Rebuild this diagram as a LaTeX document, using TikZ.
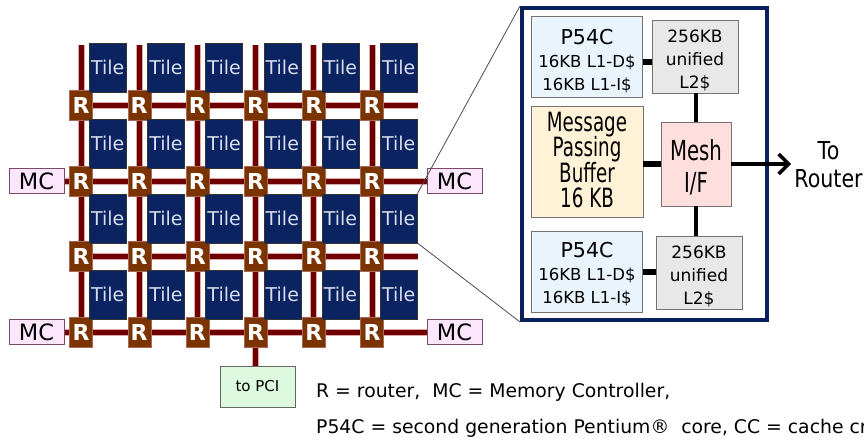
\documentclass[tikz,border=0pt]{standalone}
\usepackage{fontspec}
\setmainfont{DejaVu Sans}
\usepackage{graphicx}
\usepackage{tikz}
\usetikzlibrary{positioning,arrows.meta,calc,backgrounds}
\definecolor{TileBlue}{HTML}{0B2361}
\definecolor{TileText}{HTML}{D8DEEE}
\definecolor{RtrBrown}{HTML}{7B3300}
\definecolor{RtrEdge}{HTML}{A8685A}
\definecolor{LinkRed}{HTML}{6E0000}
\definecolor{LinkHalo}{HTML}{DDA8A8}
\definecolor{McPink}{HTML}{FCE6FC}
\definecolor{McEdge}{HTML}{7A4A66}
\definecolor{PciGreen}{HTML}{DEFADE}
\definecolor{PanelBlue}{HTML}{0A1F5C}
\definecolor{CoreBlue}{HTML}{EAF4FC}
\definecolor{CacheGray}{HTML}{E8E8E8}
\definecolor{BufYellow}{HTML}{FFF2D6}
\definecolor{MeshPink}{HTML}{FFDEDE}
% taller lettering used in the zoomed tile
\newcommand{\vst}[2]{\vphantom{#2}\smash{\scalebox{1}[#1]{#2}}}

\begin{document}
\begin{tikzpicture}[
  x=1pt,y=-1pt,
  every node/.style={align=center,inner sep=0pt},
  tile/.style={draw=black!80,fill=TileBlue,text=TileText,minimum width=37pt,minimum height=49pt,font=\fontsize{19}{19}\selectfont},
  rtr/.style={draw=RtrEdge,fill=RtrBrown,text=white,minimum width=23pt,minimum height=30pt,font=\bfseries\fontsize{22}{22}\selectfont},
  link/.style={draw=LinkRed,line width=5pt,preaction={draw=LinkHalo,line width=7pt}},
  mc/.style={draw=McEdge,fill=McPink,minimum width=55pt,minimum height=25pt,font=\fontsize{22.5}{22.5}\selectfont},
  pci/.style={draw=black!60,fill=PciGreen,minimum width=75pt,minimum height=41pt,font=\fontsize{15}{15}\selectfont},
  blk/.style={draw=black!55,line width=0.8pt},
  core/.style={blk,fill=CoreBlue,minimum width=111pt,minimum height=81pt,font=\fontsize{16.5}{23}\selectfont},
  cache/.style={blk,fill=CacheGray,minimum width=86pt,minimum height=73pt,font=\fontsize{17}{23}\selectfont},
  bus/.style={line width=5.5pt},
  vbus/.style={line width=4pt},
  arr/.style={-{Straight Barb[length=10pt,width=20pt]},line width=3.5pt},
  zoomline/.style={draw=black!70,line width=0.8pt},
  legend/.style={anchor=base west,font=\fontsize{18.8}{18.8}\selectfont}
]
  \useasboundingbox (0,0) rectangle (864,444);

  % mesh of routers and tiles
  \foreach \x [count=\i] in {81,139.2,197.4,255.6,313.8,372}
    \foreach \y [count=\j] in {105,181,256,332} {
      \node[rtr] (r-\i-\j) at (\x,\y) {R};
      \node[tile,anchor=south west] (t-\i-\j) at ($(r-\i-\j.center)+(8,-13)$) {Tile};
    }
  \node[mc] (mcl-2) at (36.5,181) {MC};
  \node[mc] (mcr-2) at (454.5,181) {MC};
  \node[mc] (mcl-4) at (36.5,332) {MC};
  \node[mc] (mcr-4) at (454.5,332) {MC};
  \node[pci] (pci) at (257.5,386.5) {to PCI};

  \begin{scope}[on background layer]
    \foreach \i in {1,...,6} \draw[link] ($(r-\i-1.center)+(0,-60)$) -- (r-\i-4.center);
    \draw[link] (r-4-4.center) -- (r-4-4.center |- pci.north);
    \foreach \j in {1,3} \draw[link] (r-1-\j.center) -- ($(r-6-\j.center)+(46,0)$);
    \foreach \j in {2,4} \draw[link] (mcl-\j) -- (mcr-\j);
  \end{scope}

  % zoomed tile
  \node[draw=PanelBlue,fill=white,line width=4pt,minimum width=245pt,minimum height=312pt] (zoom) at (644.5,164) {};
  \draw[zoomline] (zoom.north west) -- (t-6-3.north east);
  \draw[zoomline] (zoom.south west) -- (t-6-3.south east);

  \node[core] (p1) at (587,56.5) {\rule{0pt}{25.4pt}{\fontsize{20.5}{23}\selectfont P54C}\\16KB L1-D\$\\16KB L1-I\$};
  \node[cache] (c1) at (695,56.5) {\rule{0pt}{20pt}256KB\\unified\\L2\$};
  \node[blk,fill=BufYellow,minimum width=112pt,minimum height=111pt,font=\fontsize{18.3}{25.5}\selectfont] (mpb) at (587,161.5)
    {\rule{0pt}{16.5pt}\vst{1.45}{Message}\\\vst{1.45}{Passing}\\\vst{1.45}{Buffer}\\\vst{1.45}{16 KB}};
  \node[blk,fill=MeshPink,minimum width=70pt,minimum height=84pt,font=\fontsize{19.7}{32}\selectfont] (mif) at (696,164)
    {\rule{0pt}{26.6pt}\vst{1.4}{Mesh}\\\vst{1.4}{I/F}};
  \node[core] (p2) at (587,272) {\rule{0pt}{20.4pt}{\fontsize{20.5}{23}\selectfont P54C}\\16KB L1-D\$\\16KB L1-I\$};
  \node[cache] (c2) at (699,272.5) {\rule{0pt}{21pt}256KB\\unified\\L2\$};
  \node[font=\fontsize{20.6}{28}\selectfont] (tor) at (828.5,166.5) {\vst{1.2}{To}\\\vst{1.2}{Router}};

  \draw[bus] ([yshift=-5.5pt]p1.east) -- ([yshift=-5.5pt]p1.east -| c1.west);
  \draw[bus] (mif.west) -- (mif.west -| mpb.east);
  \draw[bus] (p2.east) -- (p2.east -| c2.west);
  \draw[vbus] (mif.north) -- (mif.north |- c1.south);
  \draw[vbus] (mif.south) -- (mif.south |- c2.north);
  \draw[arr] (mif.east) -- ([xshift=-3pt]mif.east -| tor.west);

  % legend
  \node[legend] (key1) at (316,397) {R = router,\ \ MC = Memory Controller,};
  \node[legend] (key2) at (316,433) {P54C = second generation Pentium®\ \ core, CC = cache cr};
\end{tikzpicture}
\end{document}
